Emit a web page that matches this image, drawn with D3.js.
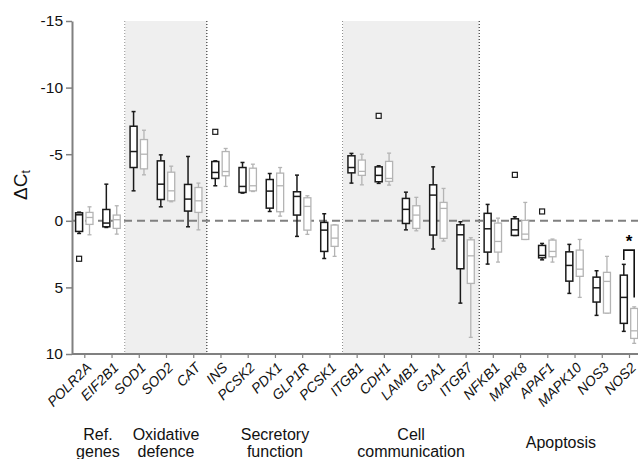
<!DOCTYPE html>
<html>
<head>
<meta charset="utf-8">
<script src="https://cdn.jsdelivr.net/npm/d3@7"></script>
<style>
  body { margin: 0; background: #fff; }
  svg { font-family: "Liberation Sans", Arial, sans-serif; }
</style>
</head>
<body>
<div class="container"></div>
<script>
// gene names along the x axis
const genes = ["POLR2A", "EIF2B1", "SOD1", "SOD2", "CAT", "INS", "PCSK2", "PDX1", "GLP1R", "PCSK1",
  "ITGB1", "CDH1", "LAMB1", "GJA1", "ITGB7", "NFKB1", "MAPK8", "APAF1", "MAPK10", "NOS3", "NOS2"];

// box stats per gene: [whisker low, q1, median, q3, whisker high] (delta Ct)
const blackStats = [
  [-0.65, -0.6, -0.45, 0.8, 0.95], [-2.75, -0.85, 0.17, 0.45, 0.5], [-8.2, -7.1, -5.2, -4.0, -2.25],
  [-4.95, -4.5, -2.75, -1.6, -1.05], [-4.83, -2.73, -1.63, -0.73, 0.45], [-4.5, -4.45, -3.63, -3.18, -2.63],
  [-4.38, -4.0, -2.58, -2.13, -2.08], [-3.55, -3.1, -2.23, -0.95, -0.7], [-3.43, -2.18, -1.83, -0.43, 1.17],
  [-0.53, 0.12, 0.7, 2.3, 2.83], [-5.06, -4.88, -4.0, -3.6, -2.83], [-4.13, -4.05, -3.41, -2.93, -2.81],
  [-2.15, -1.68, -0.86, 0.2, 0.68], [-4.05, -2.7, -1.93, 1.07, 2.12], [0.07, 0.3, 1.05, 3.6, 6.18],
  [-1.23, -0.56, 0.6, 2.35, 3.25], [-0.3, -0.15, 0.68, 1.1, 1.1], [1.7, 1.85, 2.6, 2.78, 2.93],
  [1.77, 2.33, 3.35, 4.53, 5.45], [3.75, 4.23, 5.03, 6.1, 7.1], [3.27, 4.08, 5.75, 7.7, 8.3]
];
const grayStats = [
  [-1.05, -0.63, -0.25, 0.27, 1.05], [-1.13, -0.43, -0.08, 0.57, 1.0], [-6.8, -6.1, -5.0, -3.9, -3.45],
  [-4.1, -3.65, -2.25, -1.5, -1.43], [-2.83, -2.5, -1.5, -0.63, 0.68], [-5.43, -5.2, -3.7, -3.38, -2.58],
  [-4.25, -3.95, -2.63, -2.25, -2.2], [-4.0, -3.58, -2.63, -0.68, -0.35], [-1.88, -1.73, -1.08, 0.7, 1.02],
  [0.3, 0.32, 1.3, 1.92, 2.67], [-5.0, -4.56, -3.71, -3.41, -2.7], [-5.08, -4.46, -3.18, -2.96, -2.68],
  [-1.76, -1.13, -0.43, 0.57, 0.75], [-2.43, -1.38, -0.93, 1.32, 1.52], [1.27, 1.43, 2.63, 4.7, 8.75],
  [-0.2, 0.17, 1.55, 2.35, 3.1], [-1.38, -0.03, 1.0, 1.4, 1.4], [1.37, 1.45, 2.3, 2.7, 3.1],
  [1.4, 2.2, 3.63, 4.17, 5.75], [2.67, 3.87, 4.55, 6.93, 6.93], [6.46, 6.58, 8.26, 8.83, 9.2]
];

// outliers (black series only)
const outlierGenes = ["POLR2A", "INS", "CDH1", "MAPK8", "APAF1"];
const outlierValues = [2.85, -6.68, -7.88, -3.45, -0.7];

// functional groups
const groupLines = [["Ref.", "genes"], ["Oxidative", "defence"], ["Secretory", "function"], ["Cell", "communication"], ["Apoptosis"]];
const groupFirst = ["POLR2A", "SOD1", "INS", "ITGB1", "NFKB1"];
const groupLast = ["EIF2B1", "CAT", "PCSK1", "ITGB7", "NOS2"];
const groupShaded = [false, true, false, true, false];

// y ticks
const yTicks = [-15, -10, -5, 0, 5, 10];

// significance bracket on NOS2: [bar level, left end, right end]
const sigGene = "NOS2";
const sigLevels = [2.2, 2.95, 5.75];

const width = 638, height = 459;
const plotLeft = 72, plotTop = 21, plotBottom = 354;

const svg = d3.select(".container").append("svg")
    .attr("width", width)
    .attr("height", height);

const y = d3.scaleLinear().domain([-15, 10]).range([plotTop, plotBottom]);
const x = d3.scalePoint().domain(genes).range([84.3, 629]);
const step = x.step();
const off = 5.2, bw = 7, cap = 4;

// shaded group bands and dotted separators
groupFirst.forEach(function(g, i) {
  const x0 = i === 0 ? plotLeft : x(g) - step / 2;
  const x1 = x(groupLast[i]) + step / 2;
  if (groupShaded[i]) {
    svg.append("rect")
      .attr("x", x0).attr("y", plotTop)
      .attr("width", x1 - x0).attr("height", plotBottom - plotTop)
      .attr("fill", "#efefef");
  }
  if (i < groupFirst.length - 1) {
    svg.append("line")
      .attr("x1", x1).attr("x2", x1)
      .attr("y1", plotTop).attr("y2", plotBottom)
      .attr("stroke", "#111").attr("stroke-width", 1)
      .attr("stroke-dasharray", "1,2");
  }
});

// zero reference line
svg.append("line")
  .attr("x1", plotLeft).attr("x2", width)
  .attr("y1", y(0)).attr("y2", y(0))
  .attr("stroke", "#808080").attr("stroke-width", 2)
  .attr("stroke-dasharray", "8,5");

function drawBoxes(stats, dx, color, sw) {
  const g = svg.append("g");
  const b = g.selectAll("g").data(stats).enter().append("g")
    .attr("transform", (d, i) => "translate(" + (x(genes[i]) + dx) + ",0)");
  b.append("line")
    .attr("y1", d => y(d[0])).attr("y2", d => y(d[4]))
    .attr("stroke", color).attr("stroke-width", sw);
  b.append("line").attr("x1", -cap / 2).attr("x2", cap / 2)
    .attr("y1", d => y(d[0])).attr("y2", d => y(d[0]))
    .attr("stroke", color).attr("stroke-width", sw);
  b.append("line").attr("x1", -cap / 2).attr("x2", cap / 2)
    .attr("y1", d => y(d[4])).attr("y2", d => y(d[4]))
    .attr("stroke", color).attr("stroke-width", sw);
  b.append("rect")
    .attr("x", -bw / 2).attr("width", bw)
    .attr("y", d => y(d[1])).attr("height", d => y(d[3]) - y(d[1]))
    .attr("fill", "#fff").attr("stroke", color).attr("stroke-width", sw);
  b.append("line").attr("x1", -bw / 2).attr("x2", bw / 2)
    .attr("y1", d => y(d[2])).attr("y2", d => y(d[2]))
    .attr("stroke", color).attr("stroke-width", sw);
}

drawBoxes(grayStats, off, "#b4b4b4", 1.3);
drawBoxes(blackStats, -off, "#1a1a1a", 1.5);

// outliers
svg.append("g").selectAll("rect")
  .data(outlierGenes)
  .enter().append("rect")
  .attr("x", d => x(d) - off - 2.5)
  .attr("y", (d, i) => y(outlierValues[i]) - 2.5)
  .attr("width", 5).attr("height", 5)
  .attr("fill", "#fff").attr("stroke", "#1a1a1a").attr("stroke-width", 1.2);

// significance bracket
const bl = x(sigGene) - off, br = x(sigGene) + off;
svg.append("path")
  .attr("d", "M" + bl + "," + y(sigLevels[1]) + "V" + y(sigLevels[0]) + "H" + br + "V" + y(sigLevels[2]))
  .attr("fill", "none").attr("stroke", "#111").attr("stroke-width", 1.6);
svg.append("text")
  .attr("x", x(sigGene)).attr("y", y(sigLevels[0]) - 3)
  .attr("text-anchor", "middle")
  .attr("font-size", 17).attr("font-weight", "bold")
  .text("*");

// y axis
const yAxis = svg.append("g")
  .attr("transform", "translate(" + plotLeft + ",0)")
  .call(d3.axisLeft(y).tickValues(yTicks).tickFormat(d => String(d))
    .tickSize(6).tickPadding(3).tickSizeOuter(0));
yAxis.select(".domain").attr("stroke", "#808080").attr("stroke-width", 2);
yAxis.selectAll(".tick line").attr("stroke", "#808080").attr("stroke-width", 1.5);
yAxis.selectAll("text").attr("font-size", 15.5).attr("fill", "#111")
  .attr("font-family", "'Liberation Sans', Arial, sans-serif");

// x axis
const xAxis = svg.append("g")
  .attr("transform", "translate(0," + plotBottom + ")")
  .call(d3.axisBottom(x).tickSize(4).tickSizeOuter(0));
xAxis.select(".domain").attr("d", "M" + plotLeft + ",0H" + width)
  .attr("stroke", "#808080").attr("stroke-width", 2);
xAxis.selectAll(".tick line").attr("stroke", "#808080").attr("stroke-width", 1.2);
xAxis.selectAll("text")
  .attr("font-size", 14).attr("font-style", "italic").attr("fill", "#111")
  .attr("font-family", "'Liberation Sans', Arial, sans-serif")
  .attr("text-anchor", "end")
  .attr("x", 0).attr("y", 0).attr("dy", "0.35em")
  .attr("transform", "translate(4,11) rotate(-45)");

// group labels
groupLines.forEach(function(lines, i) {
  const cx = (x(groupFirst[i]) + x(groupLast[i])) / 2;
  const t = svg.append("text")
    .attr("text-anchor", "middle")
    .attr("font-size", 16).attr("fill", "#111");
  const y0 = lines.length === 1 ? 448 : 439.5;
  lines.forEach(function(s, j) {
    t.append("tspan").attr("x", cx).attr("y", y0 + j * 17).text(s);
  });
});

// y label
const yl = svg.append("text")
  .attr("transform", "translate(27,185) rotate(-90)")
  .attr("text-anchor", "middle")
  .attr("font-size", 19).attr("fill", "#111");
yl.append("tspan").text("\u0394C");
yl.append("tspan").attr("font-size", 12).attr("dy", 3).text("t");
</script>
</body>
</html>
